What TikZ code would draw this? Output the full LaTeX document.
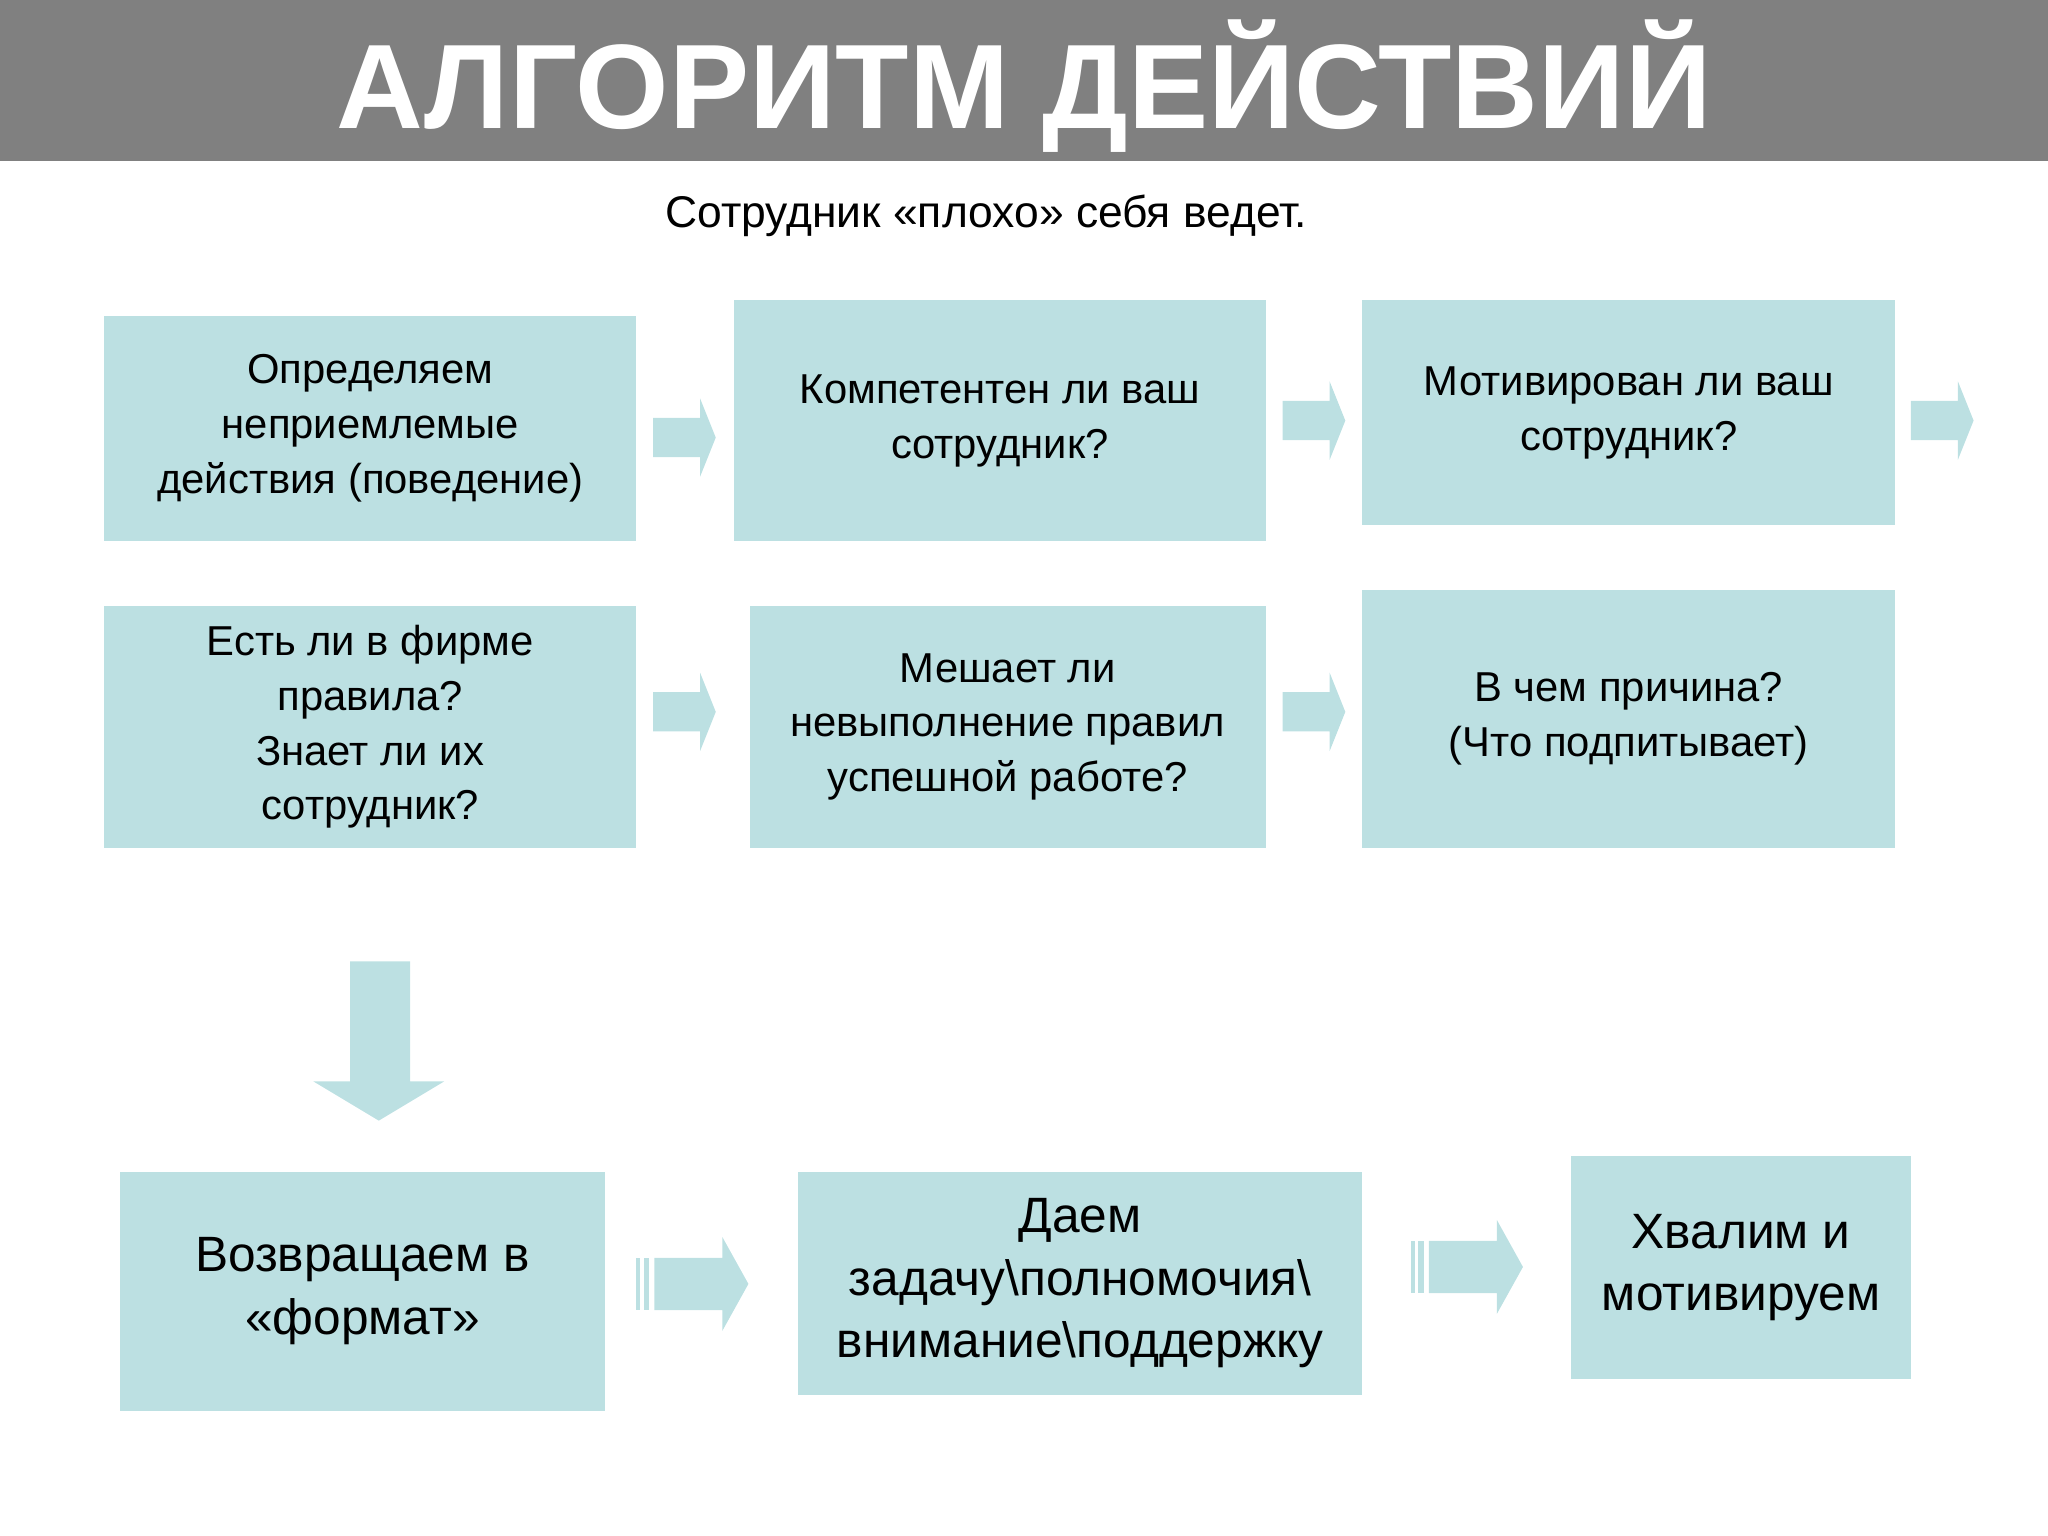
\documentclass[tikz,border=0pt]{standalone}
\usepackage{fontspec}
\setmainfont{Liberation Sans}
\definecolor{boxc}{HTML}{BCE0E2}
\definecolor{hdr}{HTML}{808080}
\begin{document}
\begin{tikzpicture}[x=0.5pt,y=-0.5pt,
  bx/.style={fill=boxc,draw=none,align=center,font=\fontsize{16}{21}\selectfont},
  bx3/.style={fill=boxc,draw=none,align=center,font=\fontsize{19}{24}\selectfont}]
\useasboundingbox (0,0) rectangle (1568,1176);
\fill[hdr] (0,0) rectangle (1568,123);
\node[text=white,font=\fontsize{46}{50}\selectfont\bfseries] (title) at (784,66) {АЛГОРИТМ ДЕЙСТВИЙ};
\node[font=\fontsize{17}{20}\selectfont] (sub) at (755,165) {Сотрудник «плохо» себя ведет.};
% boxes
\newcommand\bxat[6]{\fill[boxc] (#2,#3) rectangle (#4,#5); \node[#1] at ({(#2+#4)/2},{(#3+#5)/2}) {#6};}
\bxat{bx}{80}{242}{487}{414}{Определяем\\неприемлемые\\действия (поведение)}
\bxat{bx}{562}{230}{969}{414}{Компетентен ли ваш\\сотрудник?}
\bxat{bx}{1043}{230}{1451}{402}{Мотивирован ли ваш\\сотрудник?}
\bxat{bx}{80}{464}{487}{649}{Есть ли в фирме\\правила?\\Знает ли их\\сотрудник?}
\bxat{bx}{574}{464}{969}{649}{Мешает ли\\невыполнение правил\\успешной работе?}
\bxat{bx}{1043}{452}{1451}{649}{В чем причина?\\(Что подпитывает)}
\bxat{bx3}{92}{897}{463}{1080}{Возвращаем в\\«формат»}
\bxat{bx3}{611}{897}{1043}{1068}{Даем\\задачу\textbackslash полномочия\textbackslash\\внимание\textbackslash поддержку}
\bxat{bx3}{1203}{885}{1463}{1056}{Хвалим и\\мотивируем}
% right block arrows
\newcommand\rarr[3]{\fill[boxc] (#1,#3-15) -- (#2-12,#3-15) -- (#2-12,#3-30) -- (#2,#3) -- (#2-12,#3+30) -- (#2-12,#3+15) -- (#1,#3+15) -- cycle;}
\rarr{500}{548}{335}
\rarr{982}{1030}{322}
\rarr{1463}{1511}{322}
\rarr{500}{548}{545}
\rarr{982}{1030}{545}
\newcommand\rarrb[3]{\fill[boxc] (#1+14,#3-20) -- (#2-20,#3-20) -- (#2-20,#3-36) -- (#2,#3) -- (#2-20,#3+36) -- (#2-20,#3+20) -- (#1+14,#3+20) -- cycle;
 \fill[boxc] (#1,#3-20) rectangle (#1+3,#3+20); \fill[boxc] (#1+6,#3-20) rectangle (#1+10,#3+20);}
\rarrb{487}{573}{983}
\rarrb{1080}{1166}{970}
% down arrow
\fill[boxc] (268,736) -- (314,736) -- (314,828) -- (340,828) -- (290,858) -- (240,828) -- (268,828) -- cycle;
\end{tikzpicture}
\end{document}
